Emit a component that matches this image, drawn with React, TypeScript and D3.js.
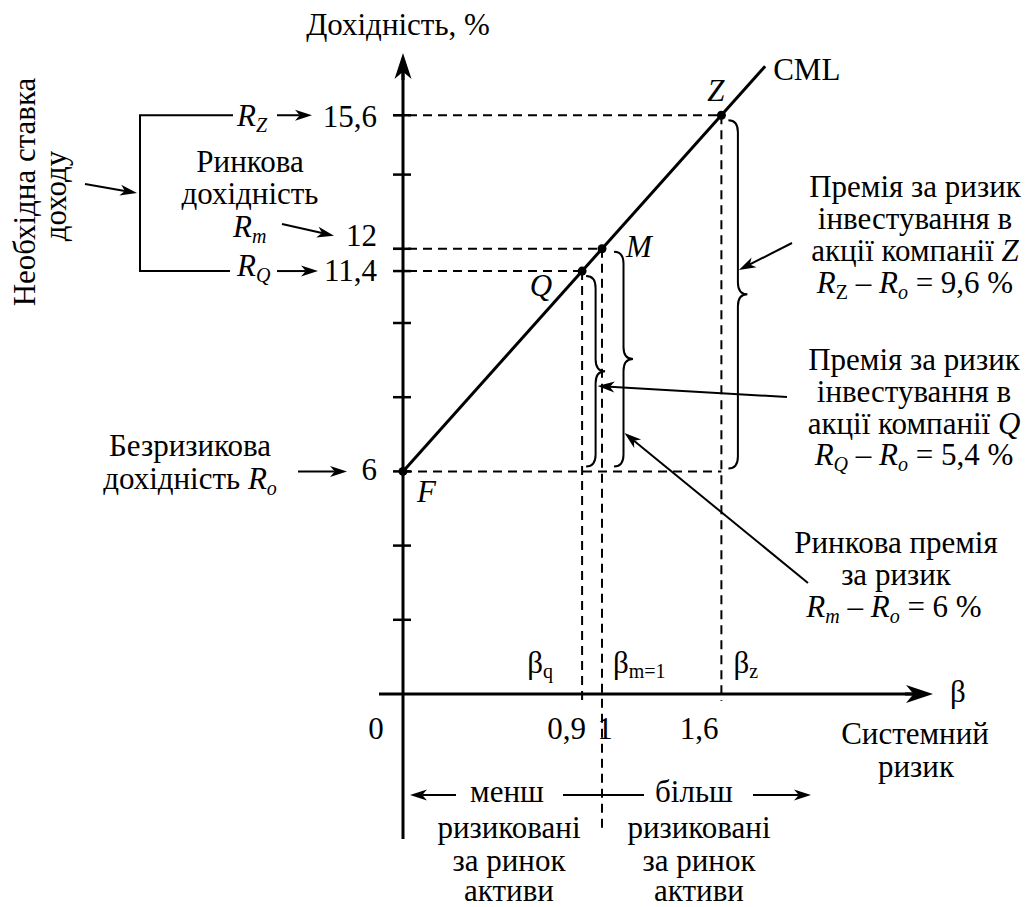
import React, { useEffect } from 'react';
import * as d3 from 'd3';

const FONT = "'Liberation Serif'";
const FS = 31;
const SUB = 20;

// points on the capital market line (beta, return %)
const pointNames = ['F', 'Q', 'M', 'Z'];
const betas = [0, 0.9, 1, 1.6];
const returns = [6, 11.4, 12, 15.6];
// where the CML line stops drawing
const cmlEnd = [1.82, 16.92];

const yTickValues = [2, 4, 6, 8, 10, 11.4, 12, 14, 15.6];
const yLabelValues = [15.6, 12, 11.4, 6];
const yLabelTexts = ['15,6', '12', '11,4', '6'];
const xLabelValues = [0, 0.9, 1, 1.6];
const xLabelTexts = ['0', '0,9', '1', '1,6'];

const premiumZLines = ['Премія за ризик', 'інвестування в', 'акції компанії '];
const premiumQLines = ['Премія за ризик', 'інвестування в', 'акції компанії '];
const marketLines = ['Ринкова премія', 'за ризик'];
const lessLines = ['ризиковані', 'за ринок', 'активи'];
const moreLines = ['ризиковані', 'за ринок', 'активи'];
const rowBase = [838, 871, 901];

const fontStyle = (size, italic) =>
  italic ? { fontFamily: FONT, fontSize: size, fontStyle: 'italic' } : { fontFamily: FONT, fontSize: size };

const T = ({ size = FS, italic = false, children, ...rest }) => (
  <text {...rest} style={fontStyle(size, italic)}>{children}</text>
);
const S = ({ size = FS, italic = false, children, ...rest }) => (
  <tspan {...rest} style={fontStyle(size, italic)}>{children}</tspan>
);

function Arrow({ x1, y1, x2, y2, len = 17, wid = 11, sw = 2 }) {
  const L = Math.hypot(x2 - x1, y2 - y1);
  const ux = (x2 - x1) / L, uy = (y2 - y1) / L;
  const nx = -uy, ny = ux;
  const bx = x2 - ux * len, by = y2 - uy * len;
  const mx = x2 - ux * len * 0.72, my = y2 - uy * len * 0.72;
  return (
    <g>
      <line x1={x1} y1={y1} x2={mx} y2={my} stroke="#000" strokeWidth={sw} />
      <path
        d={`M${x2},${y2}L${bx + nx * wid / 2},${by + ny * wid / 2}L${mx},${my}L${bx - nx * wid / 2},${by - ny * wid / 2}Z`}
        fill="#000"
      />
    </g>
  );
}

// vertical curly brace, tip pointing right
function bracePath(x0, ya, yb, w = 19, r = 12) {
  const xc = x0 + w * 0.5, xt = x0 + w, ym = (ya + yb) / 2;
  return `M${x0},${ya}Q${xc},${ya} ${xc},${ya + r}L${xc},${ym - r}Q${xc},${ym} ${xt},${ym}` +
    `Q${xc},${ym} ${xc},${ym + r}L${xc},${yb - r}Q${xc},${yb} ${x0},${yb}`;
}

const Rsub = ({ sub, italicSub = true }) => (
  <>
    <S italic>R</S>
    <S size={SUB} dy={6} italic={italicSub}>{sub}</S>
  </>
);

const Diff = ({ sub, value }) => (
  <>
    <Rsub sub={sub} italicSub={sub !== 'Z'} />
    <S dy={-6}> – </S>
    <Rsub sub="o" />
    <S dy={-6}>{` = ${value} %`}</S>
  </>
);

export default function App() {
  useEffect(() => {
    document.body.style.margin = '0';
  }, []);

  const x = d3.scaleLinear().domain([0, 1.6]).range([403, 721.4]);
  const y = d3.scaleLinear().domain([0, 10]).range([694, 323]);
  const x0 = x(0), y0 = y(0);

  const pts = betas.map((b, i) => ({ name: pointNames[i], px: x(b), py: y(returns[i]) }));
  const [F, Q, M, Z] = pts;

  const cml = d3.line()([[F.px, F.py], [x(cmlEnd[0]), y(cmlEnd[1])]]);

  const braceQ = { x0: Q.px + 4, ya: Q.py + 5, yb: F.py - 5 };
  const braceM = { x0: M.px + 12, ya: M.py + 3, yb: F.py - 5 };
  const braceZ = { x0: Z.px + 7, ya: Z.py + 5, yb: F.py - 3 };

  const labelShift = { 15.6: 12, 12: -3, 11.4: 10, 6: 9 };

  return (
    <svg width={1030} height={907} style={{ display: 'block' }}>
      {/* dashed guides */}
      <g stroke="#000" strokeWidth={2} strokeDasharray="9,6" fill="none">
        {[Q, M, Z].map(p => (
          <line key={'h' + p.name} x1={x0 - 10} y1={p.py} x2={p.px} y2={p.py} />
        ))}
        <line x1={x0} y1={F.py} x2={Z.px} y2={F.py} />
        <line x1={Q.px} y1={Q.py} x2={Q.px} y2={y0 + 7} />
        <line x1={M.px} y1={M.py} x2={M.px} y2={832} />
        <line x1={Z.px} y1={Z.py} x2={Z.px} y2={y0 + 7} />
      </g>

      {/* axes */}
      <line x1={x0} y1={839} x2={x0} y2={70} stroke="#000" strokeWidth={3} />
      <Arrow x1={x0} y1={80} x2={x0} y2={53} len={26} wid={17} sw={3} />
      <line x1={379} y1={y0} x2={915} y2={y0} stroke="#000" strokeWidth={3} />
      <Arrow x1={905} y1={y0} x2={933} y2={y0} len={27} wid={18} sw={3} />

      {yTickValues.map(v => (
        <line key={v} x1={x0 - 10} y1={y(v)} x2={x0 + 8} y2={y(v)} stroke="#000" strokeWidth={2.5} />
      ))}
      {yLabelValues.map((v, i) => (
        <T key={v} x={x0 - 26} y={y(v) + labelShift[v]} textAnchor="end">{yLabelTexts[i]}</T>
      ))}
      {xLabelValues.map((v, i) => {
        const anchor = i === 0 || i === 2 ? 'middle' : 'end';
        const dx = i === 0 ? -27 : i === 1 ? 4 : i === 2 ? 3 : -3;
        return <T key={v} x={x(v) + dx} y={739} textAnchor={anchor}>{xLabelTexts[i]}</T>;
      })}

      <T x={398} y={35} textAnchor="middle">Дохідність, %</T>
      <T x={950} y={702}>β</T>
      <T x={915} y={744} textAnchor="middle">Системний</T>
      <T x={916} y={777} textAnchor="middle">ризик</T>

      {/* beta labels above the x axis */}
      <T x={Q.px - 29} y={673} textAnchor="end">β<S size={SUB} dy={5}>q</S></T>
      <T x={M.px + 11} y={673}>β<S size={SUB} dy={5}>m=1</S></T>
      <T x={Z.px + 12} y={673}>β<S size={SUB} dy={5}>z</S></T>

      {/* CML */}
      <path d={cml} stroke="#000" strokeWidth={3} fill="none" />
      <T x={x(cmlEnd[0]) + 8} y={y(cmlEnd[1]) + 14}>CML</T>
      {pts.map(p => <circle key={p.name} cx={p.px} cy={p.py} r={4.5} fill="#000" />)}
      <T x={F.px + 14} y={F.py + 31} italic>F</T>
      <T x={Q.px - 30} y={Q.py + 25} italic textAnchor="end">Q</T>
      <T x={M.px + 24} y={M.py + 8} italic>M</T>
      <T x={Z.px + 3} y={Z.py - 14} italic textAnchor="end">Z</T>

      {/* braces */}
      <g stroke="#000" strokeWidth={2} fill="none">
        {[braceQ, braceM, braceZ].map((b, i) => <path key={i} d={bracePath(b.x0, b.ya, b.yb)} />)}
      </g>

      {/* right-hand notes */}
      {premiumZLines.map((t, i) => (
        <T key={'z' + i} x={915} y={197 + i * 32} textAnchor="middle">
          {t}{i === 2 && <S italic>Z</S>}
        </T>
      ))}
      <T x={915} y={293} textAnchor="middle"><Diff sub="Z" value="9,6" /></T>
      <Arrow x1={792} y1={243} x2={braceZ.x0 + 10.5} y2={270} />

      {premiumQLines.map((t, i) => (
        <T key={'q' + i} x={914} y={370 + i * 32} textAnchor="middle">
          {t}{i === 2 && <S italic>Q</S>}
        </T>
      ))}
      <T x={914} y={465} textAnchor="middle"><Diff sub="Q" value="5,4" /></T>
      <Arrow x1={787} y1={397} x2={braceQ.x0 + 11.5} y2={386} />

      {marketLines.map((t, i) => (
        <T key={'m' + i} x={896} y={553 + i * 32} textAnchor="middle">{t}</T>
      ))}
      <T x={894} y={617} textAnchor="middle"><Diff sub="m" value="6" /></T>
      <Arrow x1={808} y1={583} x2={braceM.x0 + 10.5} y2={433} />

      {/* left-hand notes */}
      <T transform="translate(35,192) rotate(-90)" textAnchor="middle">Необхідна ставка</T>
      <T transform="translate(66,196) rotate(-90)" textAnchor="middle">доходу</T>
      <Arrow x1={85} y1={184} x2={137} y2={193} />
      <path d={`M233,${Z.py}H140V${Q.py}H230`} stroke="#000" strokeWidth={2} fill="none" />

      <T x={237} y={Z.py + 11}><Rsub sub="Z" /></T>
      <Arrow x1={277} y1={Z.py} x2={312} y2={Z.py} />
      <T x={250} y={172} textAnchor="middle">Ринкова</T>
      <T x={250} y={204} textAnchor="middle">дохідність</T>
      <T x={233} y={237}><Rsub sub="m" /></T>
      <Arrow x1={282} y1={224} x2={334} y2={M.py - 13} />
      <T x={237} y={Q.py + 5}><Rsub sub="Q" /></T>
      <Arrow x1={277} y1={Q.py} x2={318} y2={Q.py} />

      <T x={190} y={F.py - 15} textAnchor="middle">Безризикова</T>
      <T x={190} y={F.py + 18} textAnchor="middle">дохідність <Rsub sub="o" /></T>
      <Arrow x1={298} y1={F.py} x2={347} y2={F.py} />

      {/* bottom: less / more risky than the market */}
      <Arrow x1={M.px - 146} y1={795} x2={x0 + 7} y2={795} />
      <line x1={M.px - 39} y1={795} x2={M.px + 42} y2={795} stroke="#000" strokeWidth={2} />
      <Arrow x1={M.px + 151} y1={795} x2={M.px + 209} y2={795} />
      <T x={M.px - 95} y={802} textAnchor="middle">менш</T>
      <T x={M.px + 92} y={802} textAnchor="middle">більш</T>
      {lessLines.map((t, i) => (
        <T key={'l' + i} x={M.px - 93} y={rowBase[i]} textAnchor="middle">{t}</T>
      ))}
      {moreLines.map((t, i) => (
        <T key={'r' + i} x={M.px + 97} y={rowBase[i]} textAnchor="middle">{t}</T>
      ))}
    </svg>
  );
}
